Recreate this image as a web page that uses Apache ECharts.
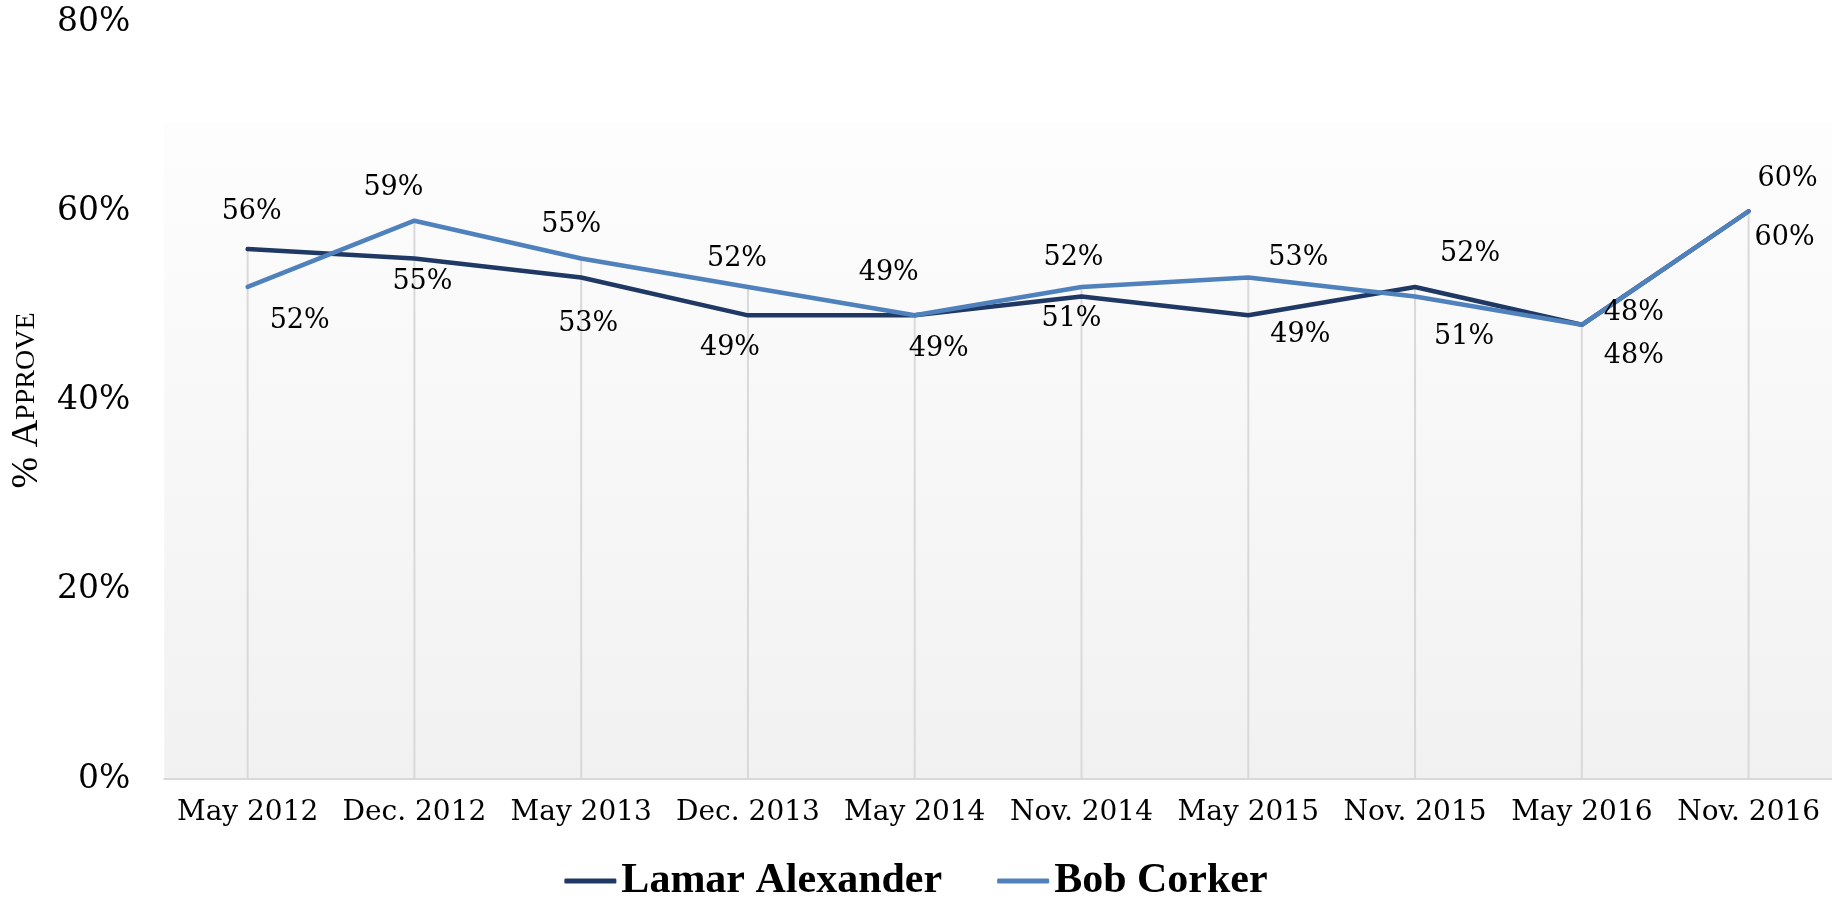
<!DOCTYPE html>
<html>
<head>
<meta charset="utf-8">
<script src="https://cdn.jsdelivr.net/npm/echarts@6/dist/echarts.min.js"></script>
<style>
  * { margin: 0; padding: 0; }
  html, body { width: 100%; height: 100%; background: #fff; }
  #main { width: 1832px; height: 899px; }
</style>
</head>
<body>
<!-- chart container -->
<div id="main"></div>
<script>
// poll dates
const categories = ['May 2012', 'Dec. 2012', 'May 2013', 'Dec. 2013', 'May 2014',
                    'Nov. 2014', 'May 2015', 'Nov. 2015', 'May 2016', 'Nov. 2016'];
// % approve
const lamarAlexander = [56, 55, 53, 49, 49, 51, 49, 52, 48, 60];
const bobCorker = [52, 59, 55, 52, 49, 52, 53, 51, 48, 60];
const yTicks = [0, 20, 40, 60, 80];

// where each value label sits relative to its point (px)
const lamarLabelOffsets = [[4, -37], [8, 23], [7, 46], [-18, 33], [24, 34],
                           [-10, 23], [52, 20], [55, -33], [52, -12], [39, -32]];
const corkerLabelOffsets = [[52, 34], [-21, -33], [-10, -34], [-11, -28], [-26, -42],
                            [-8, -29], [50, -20], [49, 41], [52, 31], [36, 27]];

const serif = 'Georgia, "DejaVu Serif", serif';

function withLabels(values, offsets) {
    return values.map(function (v, i) {
        return {
            value: v,
            label: { position: 'inside', offset: offsets[i] }
        };
    });
}

// drop lines go from the higher of the two points down to the axis
const dropLines = lamarAlexander.map(function (v, i) { return Math.max(v, bobCorker[i]); });

const option = {
    animation: false,
    textStyle: { fontFamily: serif },
    grid: {
        left: 162,
        right: 0,
        top: 22,
        bottom: 120,
        show: true,
        borderWidth: 0,
        backgroundColor: new echarts.graphic.LinearGradient(0, 0, 0, 1, [
            { offset: 0, color: '#ffffff' },
            { offset: 0.13, color: '#ffffff' },
            { offset: 0.135, color: '#fdfdfd' },
            { offset: 1, color: '#f1f1f1' }
        ])
    },
    legend: {
        data: ['Lamar Alexander', 'Bob Corker'],
        top: 855,
        left: 'center',
        icon: 'roundRect',
        itemWidth: 52,
        itemHeight: 5,
        itemGap: 55,
        textStyle: {
            fontFamily: '"Liberation Serif", serif',
            fontWeight: 'bold',
            fontSize: 42,
            color: '#000'
        }
    },
    xAxis: {
        type: 'category',
        data: categories,
        boundaryGap: true,
        axisLine: { lineStyle: { color: '#d9d9d9', width: 2 } },
        axisTick: { show: false },
        axisLabel: { color: '#000', fontSize: 28, fontFamily: serif, margin: 20, interval: 0 },
        splitLine: { show: false }
    },
    yAxis: {
        type: 'value',
        min: yTicks[0],
        max: yTicks[yTicks.length - 1],
        interval: yTicks[1] - yTicks[0],
        name: '% A{sc|PPROVE}',
        nameLocation: 'middle',
        nameRotate: 90,
        nameGap: 112,
        nameTextStyle: {
            fontFamily: '"Liberation Serif", serif',
            fontSize: 38,
            color: '#000',
            rich: {
                sc: { fontFamily: '"Liberation Serif", serif', fontSize: 28, color: '#000' }
            }
        },
        axisLine: { show: false },
        axisTick: { show: false },
        splitLine: { show: false },
        axisLabel: {
            color: '#000',
            fontSize: 33,
            fontFamily: serif,
            margin: 34,
            formatter: '{value}%'
        }
    },
    series: [
        {
            name: 'drop',
            type: 'bar',
            data: dropLines,
            barWidth: 2,
            silent: true,
            itemStyle: { color: '#d9d9d9' }
        },
        {
            name: 'Lamar Alexander',
            type: 'line',
            data: withLabels(lamarAlexander, lamarLabelOffsets),
            symbol: 'circle',
            symbolSize: 1,
            itemStyle: { color: '#1f3864' },
            lineStyle: { color: '#1f3864', width: 4.5, cap: 'round', join: 'round' },
            label: {
                show: true,
                formatter: '{c}%',
                color: '#000',
                fontSize: 27,
                fontFamily: serif
            }
        },
        {
            name: 'Bob Corker',
            type: 'line',
            data: withLabels(bobCorker, corkerLabelOffsets),
            symbol: 'circle',
            symbolSize: 1,
            itemStyle: { color: '#4f81bd' },
            lineStyle: { color: '#4f81bd', width: 4.5, cap: 'round', join: 'round' },
            label: {
                show: true,
                formatter: '{c}%',
                color: '#000',
                fontSize: 27,
                fontFamily: serif
            }
        }
    ]
};

const chart = echarts.init(document.getElementById('main'));
chart.setOption(option);
</script>
</body>
</html>
